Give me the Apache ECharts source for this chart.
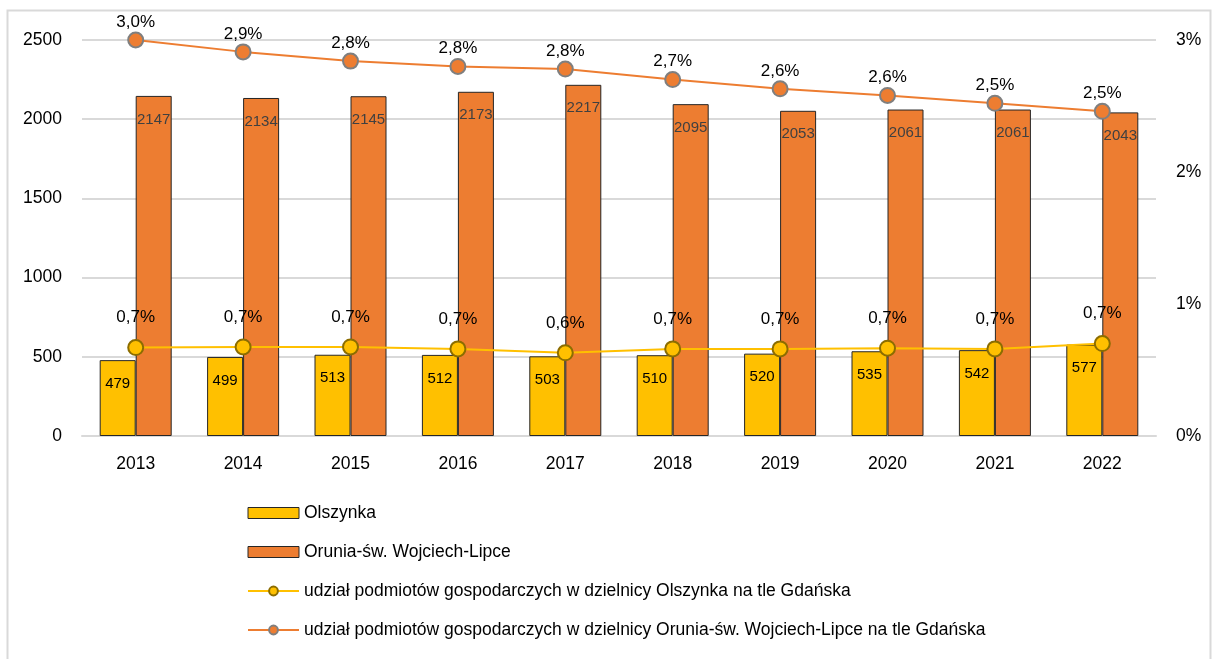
<!DOCTYPE html>
<html>
<head>
<meta charset="utf-8">
<script src="https://cdn.jsdelivr.net/npm/echarts@6/dist/echarts.min.js"></script>
<style>
    html, body { margin: 0; padding: 0; background: #fff; }
    #chart { width: 1213px; height: 659px; }
</style>
</head>
<body>
<div id="chart"></div>
<script>
const years = ['2013', '2014', '2015', '2016', '2017', '2018', '2019', '2020', '2021', '2022'];
const olszynka = [479, 499, 513, 512, 503, 510, 520, 535, 542, 577];
const orunia = [2147, 2134, 2145, 2173, 2217, 2095, 2053, 2061, 2061, 2043];
const shareOlszynka = [0.67, 0.675, 0.675, 0.66, 0.63, 0.66, 0.66, 0.665, 0.66, 0.70];
const shareOrunia = [3.0, 2.91, 2.84, 2.80, 2.78, 2.70, 2.63, 2.58, 2.52, 2.46];

const names = [
    'Olszynka',
    'Orunia-św. Wojciech-Lipce',
    'udział podmiotów gospodarczych w dzielnicy Olszynka na tle Gdańska',
    'udział podmiotów gospodarczych w dzielnicy Orunia-św. Wojciech-Lipce na tle Gdańska',
];

const FONT = 'Liberation Sans';
const pct = (v) => v.toFixed(1).replace('.', ',') + '%';

const chart = echarts.init(document.getElementById('chart'));
chart.setOption({
    animation: false,
    textStyle: {fontFamily: FONT},
    graphic: [{
        type: 'rect',
        shape: {x: 7.5, y: 10.5, width: 1203, height: 660},
        style: {fill: 'none', stroke: '#d9d9d9', lineWidth: 2},
        silent: true,
    }],
    grid: {left: 82, right: 57, top: 40, bottom: 223},
    legend: {
        orient: 'vertical',
        left: 242,
        top: 499,
        itemGap: 21,
        itemWidth: 51,
        itemHeight: 11,
        textStyle: {fontSize: 17.5, color: '#000', fontFamily: FONT},
        data: [
            {name: names[0], icon: 'rect', itemStyle: {borderWidth: 1}},
            {name: names[1], icon: 'rect', itemStyle: {borderWidth: 1}},
            names[2],
            names[3],
        ],
    },
    xAxis: {
        type: 'category',
        data: years,
        axisTick: {show: false},
        axisLine: {show: true, lineStyle: {color: '#d9d9d9', width: 2}},
        axisLabel: {fontSize: 17.5, color: '#000', margin: 19},
    },
    yAxis: [
        {
            type: 'value',
            min: 0,
            max: 2500,
            interval: 500,
            axisLabel: {fontSize: 17.5, color: '#000', margin: 20, formatter: (v) => String(v)},
            splitLine: {lineStyle: {color: '#d9d9d9', width: 2}},
        },
        {
            type: 'value',
            min: 0,
            max: 3,
            interval: 1,
            axisLabel: {fontSize: 17.5, color: '#000', margin: 20, formatter: (v) => v + '%'},
            splitLine: {show: false},
        },
    ],
    series: [
        {
            name: names[0],
            type: 'bar',
            data: olszynka,
            barWidth: 36,
            barGap: '0%',
            itemStyle: {color: '#FFC000', borderColor: '#262626', borderWidth: 1},
            label: {show: true, position: 'insideTop', distance: 16, fontSize: 15, color: '#000'},
        },
        {
            name: names[1],
            type: 'bar',
            data: orunia,
            barWidth: 36,
            itemStyle: {color: '#ED7D31', borderColor: '#262626', borderWidth: 1},
            label: {show: true, position: 'insideTop', distance: 16, fontSize: 15, color: '#404040'},
        },
        {
            name: names[2],
            type: 'line',
            yAxisIndex: 1,
            data: shareOlszynka,
            symbol: 'circle',
            symbolSize: 15,
            lineStyle: {color: '#FFC000', width: 2},
            itemStyle: {color: '#FFC000', borderColor: '#8C6D00', borderWidth: 2},
            label: {show: true, position: 'top', distance: 13, fontSize: 17, color: '#000', formatter: (p) => pct(p.value)},
            z: 5,
        },
        {
            name: names[3],
            type: 'line',
            yAxisIndex: 1,
            data: shareOrunia,
            symbol: 'circle',
            symbolSize: 15,
            lineStyle: {color: '#ED7D31', width: 2},
            itemStyle: {color: '#ED7D31', borderColor: '#7F7F7F', borderWidth: 2},
            label: {show: true, position: 'top', distance: 1, fontSize: 17, color: '#000', formatter: (p) => pct(p.value)},
            z: 5,
        },
    ],
});
</script>
</body>
</html>
